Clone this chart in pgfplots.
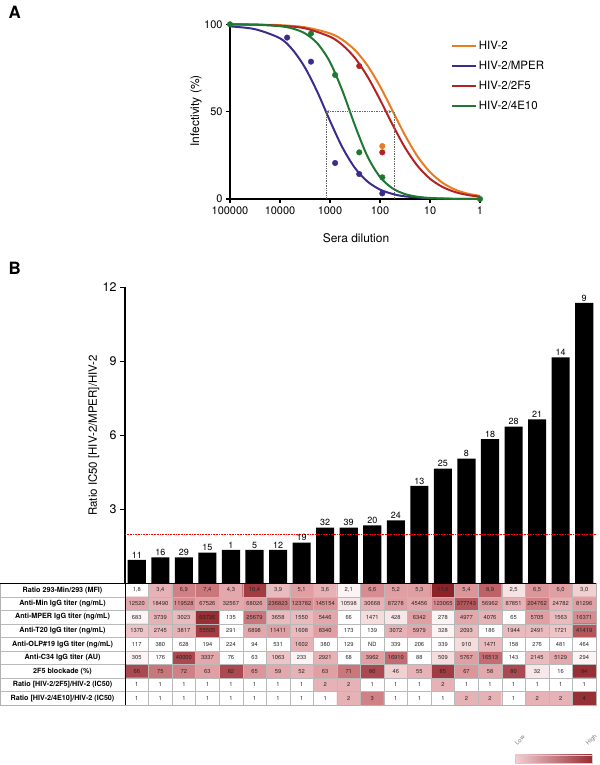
\documentclass[border=0pt]{standalone}
\usepackage{pgfplots}
\pgfplotsset{compat=1.18}
\usepackage{pgfplotstable}
\usepackage{fontspec}
\setmainfont{TeX Gyre Heros}
\usetikzlibrary{arrows.meta}

\definecolor{cOrange}{RGB}{230,125,35}
\definecolor{cBlue}{RGB}{60,45,140}
\definecolor{cRed}{RGB}{180,35,35}
\definecolor{cGreen}{RGB}{30,120,50}
\definecolor{cLow}{RGB}{243,208,211}
\definecolor{cHigh}{RGB}{150,45,52}

% heat table: column, row, shade (0..1), cell text
\pgfplotstableread[row sep=\\]{
x y c t\\
1 1 0 1,8\\ 2 1 .35 3,4\\ 3 1 .6 6,9\\ 4 1 .65 7,4\\ 5 1 .4 4,3\\ 6 1 .9 10,4\\ 7 1 .3 3,9\\ 8 1 .45 5,1\\ 9 1 .35 3,6\\ 10 1 .05 2,1\\
11 1 .55 6,6\\ 12 1 .45 5,2\\ 13 1 .45 5,3\\ 14 1 1 11,6\\ 15 1 .5 5,4\\ 16 1 .75 8,9\\ 17 1 .12 2,5\\ 18 1 .5 6,5\\ 19 1 .45 6,0\\ 20 1 .2 3,0\\
1 2 .4 12520\\ 2 2 .35 18490\\ 3 2 .55 119528\\ 4 2 .45 67526\\ 5 2 .4 32567\\ 6 2 .45 68026\\ 7 2 .65 236823\\ 8 2 .55 123782\\ 9 2 .5 145154\\ 10 2 .1 10598\\
11 2 .35 30668\\ 12 2 .45 87278\\ 13 2 .4 45456\\ 14 2 .55 123065\\ 15 2 .8 377743\\ 16 2 .45 56962\\ 17 2 .35 87851\\ 18 2 .6 204762\\ 19 2 .35 24782\\ 20 2 .45 81296\\
1 3 .05 683\\ 2 3 .35 3739\\ 3 3 .3 3023\\ 4 3 .95 63726\\ 5 3 0 135\\ 6 3 .65 25679\\ 7 3 .3 3658\\ 8 3 .3 1550\\ 9 3 .4 5446\\ 10 3 0 66\\
11 3 .15 1471\\ 12 3 .1 428\\ 13 3 .45 6342\\ 14 3 .05 278\\ 15 3 .4 4977\\ 16 3 .35 4076\\ 17 3 0 65\\ 18 3 .45 5705\\ 19 3 .3 1563\\ 20 3 .55 16371\\
1 4 .25 1370\\ 2 4 .3 2745\\ 3 4 .35 3817\\ 4 4 .9 55505\\ 5 4 0 291\\ 6 4 .4 6898\\ 7 4 .45 11411\\ 8 4 .3 1608\\ 9 4 .45 8340\\ 10 4 0 173\\
11 4 0 139\\ 12 4 .35 3072\\ 13 4 .4 5979\\ 14 4 .05 328\\ 15 4 .3 2093\\ 16 4 0 186\\ 17 4 .3 1944\\ 18 4 .3 2491\\ 19 4 .25 1721\\ 20 4 .8 41419\\
1 5 0 117\\ 2 5 0 380\\ 3 5 0 628\\ 4 5 0 194\\ 5 5 0 224\\ 6 5 0 94\\ 7 5 0 531\\ 8 5 .35 1602\\ 9 5 0 380\\ 10 5 0 129\\
11 5 0 ND\\ 12 5 0 339\\ 13 5 0 206\\ 14 5 0 339\\ 15 5 .15 910\\ 16 5 .3 1471\\ 17 5 0 158\\ 18 5 0 276\\ 19 5 0 481\\ 20 5 0 464\\
1 6 .05 305\\ 2 6 0 176\\ 3 6 .85 40000\\ 4 6 .4 3337\\ 5 6 0 76\\ 6 6 0 63\\ 7 6 .25 1063\\ 8 6 .05 233\\ 9 6 .35 2921\\ 10 6 0 68\\
11 6 .45 3962\\ 12 6 .7 16910\\ 13 6 0 88\\ 14 6 .15 509\\ 15 6 .45 5767\\ 16 6 .7 16513\\ 17 6 0 143\\ 18 6 .3 2145\\ 19 6 .4 5129\\ 20 6 .05 294\\
1 7 .85 66\\ 2 7 .65 75\\ 3 7 .6 72\\ 4 7 .45 63\\ 5 7 .85 82\\ 6 7 .5 65\\ 7 7 .4 59\\ 8 7 .35 52\\ 9 7 .45 63\\ 10 7 .65 71\\
11 7 .85 80\\ 12 7 .2 46\\ 13 7 .35 55\\ 14 7 .9 85\\ 15 7 .5 67\\ 16 7 .4 58\\ 17 7 .85 80\\ 18 7 .1 32\\ 19 7 0 16\\ 20 7 .95 94\\
1 8 0 1\\ 2 8 0 1\\ 3 8 0 1\\ 4 8 0 1\\ 5 8 0 1\\ 6 8 0 1\\ 7 8 0 1\\ 8 8 0 1\\ 9 8 .35 2\\ 10 8 .35 2\\
11 8 0 1\\ 12 8 0 1\\ 13 8 0 1\\ 14 8 .35 2\\ 15 8 0 1\\ 16 8 0 1\\ 17 8 0 1\\ 18 8 0 1\\ 19 8 0 1\\ 20 8 0 1\\
1 9 0 1\\ 2 9 0 1\\ 3 9 0 1\\ 4 9 0 1\\ 5 9 0 1\\ 6 9 0 1\\ 7 9 0 1\\ 8 9 0 1\\ 9 9 0 1\\ 10 9 .35 2\\
11 9 .6 3\\ 12 9 0 1\\ 13 9 0 1\\ 14 9 0 1\\ 15 9 .35 2\\ 16 9 .35 2\\ 17 9 0 1\\ 18 9 .35 2\\ 19 9 .35 2\\ 20 9 .95 4\\
}\heat

\begin{document}
\begin{tikzpicture}
\path[use as bounding box] (0bp,0bp) rectangle (600bp,765bp);

% ---------------- panel A ----------------
\node[anchor=base west, font=\bfseries\fontsize{17}{18}\selectfont] at (5bp,746bp) {A};
\begin{axis}[
    at={(230bp,566bp)}, anchor=south west, scale only axis,
    width=250bp, height=174.7bp,
    xmode=log, x dir=reverse, xmin=1, xmax=100000, ymin=0, ymax=100,
    axis x line*=bottom, axis y line*=left,
    axis line style={-, line width=1.3pt},
    xtick={1,10,100,1000,10000,100000},
    xticklabels={1,10,100,1000,10000,100000},
    xminorticks=false,
    ytick={0,50,100},
    tick align=outside, major tick length=4bp,
    tick style={black, line width=1.1pt},
    tick label style={font=\fontsize{11}{13}\selectfont},
    /pgf/number format/assume math mode=true,
    xlabel={Sera dilution}, ylabel={Infectivity (\%)},
    label style={font=\fontsize{12}{14}\selectfont},
    xlabel style={at={(axis description cs:0.504,-0.223)}, anchor=center},
    ylabel style={at={(axis description cs:-0.136,0.504)}, anchor=center},
    clip=false,
    legend style={draw=none, fill=none, at={(axis description cs:0.883,0.915)},
        anchor=north west, font=\fontsize{11.5}{13}\selectfont,
        row sep=6bp, inner sep=0pt},
    legend cell align=left,
    legend image code/.code={\draw[#1, line width=2pt] (0bp,0bp) -- (24bp,0bp);},
]
\addplot[cOrange, line width=2pt, smooth] coordinates {
 (100000,99.9) (31623,99.8) (10000,99.5) (3162,98.3) (1000,94.8) (562,91.1) (316,85.2)
 (178,76.4) (100,64.5) (56.2,50.6) (31.6,36.5) (17.8,24.4) (10,15.4) (5.62,9.3)
 (3.16,5.4) (1.78,3.1) (1,1.8)};
\addlegendentry{HIV-2}
\addplot[cBlue, line width=2pt, smooth] coordinates {
 (100000,98.8) (31623,97.2) (10000,92.0) (5623,85.5) (3162,75.2) (1778,61.1) (1000,44.7)
 (562,29.4) (316,17.7) (178,10.0) (100,5.4) (56.2,2.9) (31.6,1.5) (10,0.4) (3.16,0.1) (1,0.03)};
\addlegendentry{HIV-2/MPER}
\addplot[cRed, line width=2pt, smooth] coordinates {
 (100000,99.9) (31623,99.8) (10000,99.2) (3162,97.7) (1000,92.9) (562,88.1) (316,80.7)
 (178,70.1) (100,56.9) (56.2,42.6) (31.6,29.4) (17.8,19.0) (10,11.6) (5.62,6.9)
 (3.16,4.0) (1.78,2.3) (1,1.3)};
\addlegendentry{HIV-2/2F5}
\addplot[cGreen, line width=2pt, smooth] coordinates {
 (100000,99.96) (31623,99.8) (10000,98.9) (5623,97.6) (3162,94.8) (1778,89.0) (1000,78.4)
 (562,61.8) (316,42.0) (178,24.4) (100,12.6) (56.2,6.1) (31.6,2.8) (17.8,1.3) (10,0.6)
 (3.16,0.1) (1,0.02)};
\addlegendentry{HIV-2/4E10}

% IC50 guides
\addplot[gray!80!black, densely dotted, line width=0.7pt, forget plot] coordinates {(1200,0) (1200,50)};
\addplot[gray!80!black, densely dotted, line width=0.7pt, forget plot] coordinates {(52,0) (52,50)};
\addplot[gray!80!black, densely dotted, line width=0.7pt, {Stealth[length=3.5bp,width=3bp]}-{Stealth[length=3.5bp,width=3bp]}, forget plot]
  coordinates {(1200,50) (58,50)};

% measured points
\addplot[only marks, mark=*, mark size=2.8bp, cOrange, forget plot] coordinates {(90,30.3)};
\addplot[only marks, mark=*, mark size=2.8bp, cRed, forget plot] coordinates {(260,76.1) (90,26.7)};
\addplot[only marks, mark=*, mark size=2.8bp, cBlue, forget plot] coordinates {
 (7200,92.4) (2400,78.6) (790,20.6) (260,14.3) (90,3.2)};
\addplot[only marks, mark=*, mark size=2.8bp, cGreen, forget plot] coordinates {
 (100000,100) (2400,94.7) (790,71) (260,26.7) (90,12.4) (1,0)};
\end{axis}

% ---------------- panel B ----------------
\node[anchor=base west, font=\bfseries\fontsize{17}{18}\selectfont] at (5bp,490bp) {B};
\begin{axis}[
    at={(125bp,181.7bp)}, anchor=south west, scale only axis,
    width=471bp, height=296bp,
    xmin=0.5, xmax=20.5, ymin=0, ymax=12,
    axis y line*=left, axis x line=none,
    axis line style={-, line width=1.3pt},
    ytick={3,6,9,12}, xtick=\empty,
    tick align=outside, major tick length=5bp,
    tick style={black, line width=1.1pt},
    tick label style={font=\fontsize{12.5}{14}\selectfont},
    /pgf/number format/assume math mode=true,
    ylabel={Ratio IC50 [HIV-2/MPER]/HIV-2},
    ylabel style={font=\fontsize{11.5}{13}\selectfont, at={(axis description cs:-0.066,0.5)}, anchor=center},
    bar width=0.77,
    clip=false,
]
\addplot[ybar, fill=black, draw=none, nodes near coords, point meta=explicit symbolic,
    every node near coord/.append style={font=\fontsize{9}{10}\selectfont, inner sep=1.5bp}]
coordinates {
 (1,0.95) [11] (2,1.05) [16] (3,1.05) [29] (4,1.24) [15] (5,1.35) [1]
 (6,1.35) [5] (7,1.35) [12] (8,1.65) [19] (9,2.26) [32] (10,2.26) [39]
 (11,2.35) [20] (12,2.55) [24] (13,3.95) [13] (14,4.65) [25] (15,5.05) [8]
 (16,5.84) [18] (17,6.35) [28] (18,6.65) [21] (19,9.16) [14] (20,11.37) [9]};
\addplot[red, densely dotted, line width=0.6pt] coordinates {(0.5,2) (20.5,2)};
\end{axis}

% ---------------- table under the bars ----------------
\begin{axis}[
    at={(0bp,60bp)}, anchor=south west, scale only axis,
    width=596bp, height=121.7bp,
    xmin=-4.808, xmax=20.5, ymin=0.5, ymax=9.5, y dir=reverse,
    xtick={0.5,1.5,...,20.5}, ytick={0.5,1.5,...,9.5},
    xticklabels={}, yticklabels={}, major tick length=0pt,
    grid=major, grid style={gray!55, line width=0.5pt},
    axis line style={gray!60, line width=0.6pt},
    extra x ticks={0.5}, extra x tick labels={},
    extra x tick style={grid=major, major grid style={black, line width=1pt}},
    extra y ticks={0.5}, extra y tick labels={},
    extra y tick style={grid=major, major grid style={black, line width=1.3pt}},
    axis on top,
    colormap={heat}{rgb255=(255,255,255) rgb255=(238,196,199) rgb255=(220,150,154) rgb255=(190,98,104) rgb255=(140,35,40)},
    point meta min=0, point meta max=1,
]
\addplot[matrix plot*, shader=flat corner, mesh/cols=20, point meta=explicit]
  table[x=x, y=y, meta=c] {\heat};
\addplot[draw=none, mark=none, nodes near coords, point meta=explicit symbolic,
    every node near coord/.append style={anchor=center, inner sep=0pt,
      font=\fontsize{5.8}{6.5}\selectfont, text=black!85}]
  table[x=x, y=y, meta=t] {\heat};
\begin{scope}[font=\bfseries\fontsize{7.2}{8}\selectfont]
\node at (axis cs:-2.154,1) {Ratio 293-Min/293 (MFI)};
\node at (axis cs:-2.154,2) {Anti-Min IgG titer (ng/mL)};
\node at (axis cs:-2.154,3) {Anti-MPER IgG titer (ng/mL)};
\node at (axis cs:-2.154,4) {Anti-T20 IgG titer (ng/mL)};
\node at (axis cs:-2.154,5) {Anti-OLP\#19 IgG titer (ng/mL)};
\node at (axis cs:-2.154,6) {Anti-C34 IgG titer (AU)};
\node at (axis cs:-2.154,7) {2F5 blockade (\%)};
\node at (axis cs:-2.154,8) {Ratio [HIV-2/2F5]/HIV-2 (IC50)};
\node at (axis cs:-2.154,9) {Ratio [HIV-2/4E10]/HIV-2 (IC50)};
\end{scope}
\end{axis}

% colour key
\shade[left color=cLow, right color=cHigh, draw=gray!40] (515bp,2bp) rectangle (592bp,10bp);
\node[rotate=45, anchor=base west, font=\fontsize{6}{7}\selectfont, text=gray] at (515bp,17bp) {Low};
\node[rotate=45, anchor=base west, font=\fontsize{6}{7}\selectfont, text=gray] at (586bp,17bp) {High};
\end{tikzpicture}
\end{document}
